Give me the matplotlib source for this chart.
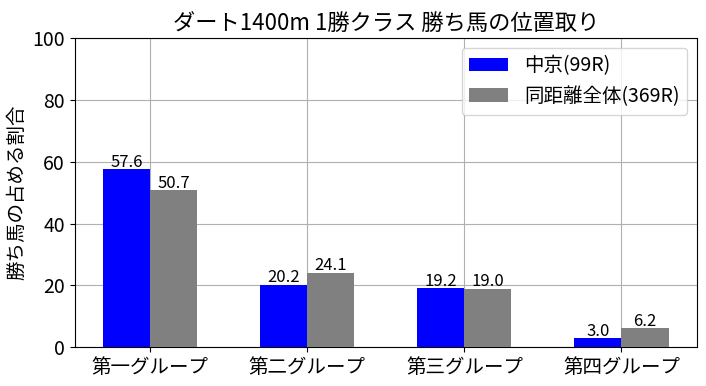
import numpy as np
import matplotlib
matplotlib.use("Agg")
import matplotlib.pyplot as plt

plt.rcParams['font.family'] = ['Noto Sans CJK JP', 'DejaVu Sans']

categories = ['第一グループ', '第二グループ', '第三グループ', '第四グループ']
chukyo = [57.6, 20.2, 19.2, 3.0]
overall = [50.7, 24.1, 19.0, 6.2]
labels = ['中京(99R)', '同距離全体(369R)']

x = np.arange(len(categories))
w = 0.3

fig, ax = plt.subplots(figsize=(7.06, 3.86), dpi=100)
b1 = ax.bar(x - w/2, chukyo, w, color='blue', label=labels[0], zorder=3)
b2 = ax.bar(x + w/2, overall, w, color='gray', label=labels[1], zorder=3)
for bars in (b1, b2):
	for r in bars:
		ax.text(r.get_x() + r.get_width()/2, r.get_height() - 0.5, '%.1f' % r.get_height(),
			ha='center', va='bottom', fontsize=12)

ax.set_xticks(x)
ax.set_xticklabels(categories, fontsize=14)
ax.tick_params(axis='y', labelsize=14)
ax.set_ylim(0, 100)
ax.set_ylabel('勝ち馬の占める割合', fontsize=14)
ax.set_title('ダート1400m 1勝クラス 勝ち馬の位置取り', fontsize=16)
ax.grid(True, zorder=0)
ax.legend(loc='upper right', fontsize=14)

fig.subplots_adjust(left=0.106, right=0.987, top=0.902, bottom=0.1)
fig.savefig('out.png')
